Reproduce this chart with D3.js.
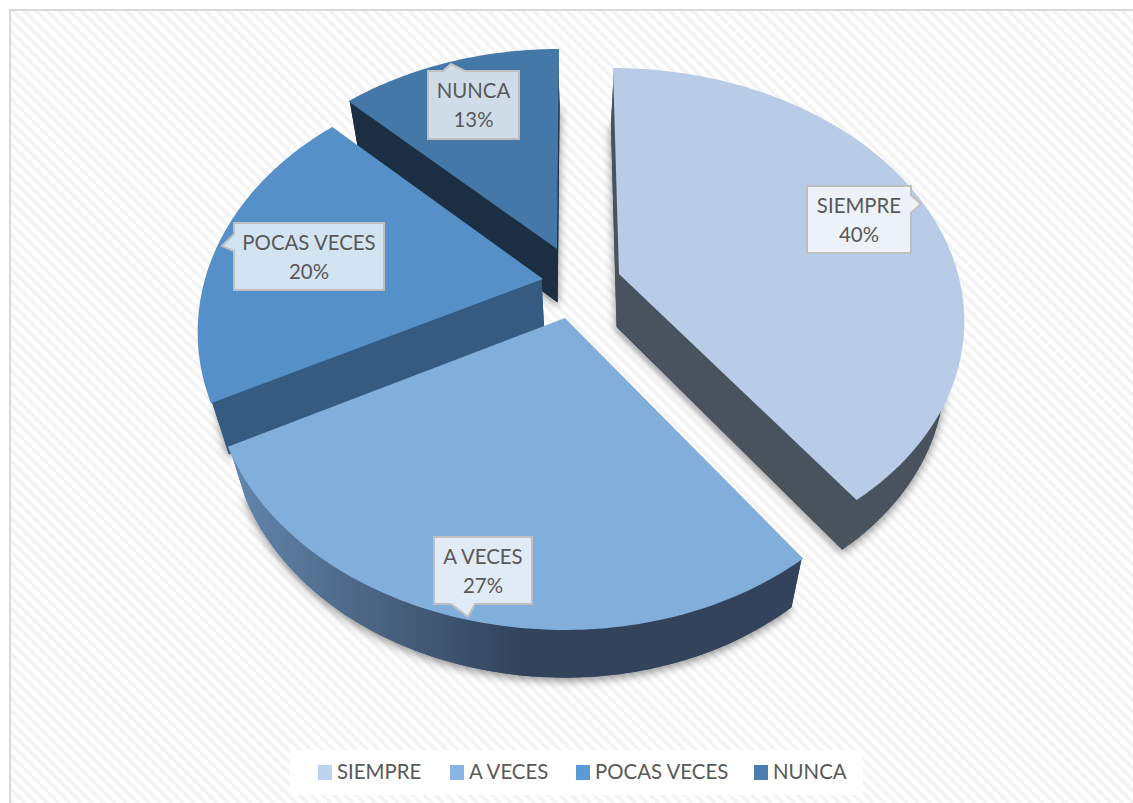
<!DOCTYPE html>
<html><head><meta charset="utf-8">
<style>html,body{margin:0;padding:0;background:#fff;overflow:hidden}svg{display:block}</style>
<script src="https://cdn.jsdelivr.net/npm/d3@7"></script></head>
<body><svg id="c" width="1133" height="803"></svg>
<script>
// --- data ---
const categories = ["SIEMPRE","A VECES","POCAS VECES","NUNCA"];
const values = [40,27,20,13];
const percentLabels = ["40%","27%","20%","13%"];
// --- style / layout ---
const topColors = ["#b8cce7","#82aedc","#5590c9","#4478a9"];
const sideColors = ["#49535e","url(#sideA)","#355b80","#1c2f42"];
const legendColors = ["#bdd2ef","#8ab4e3","#5b9bd5","#4a7eb0"];
const apexes = [[619,274],[565,318],[543,279],[557,249]];
const persp = [
 {A:339,Al:339,B:241,K:0.17, s:0.029, da0:0,   da1:0},
 {A:338,Al:345,B:248,K:0.205,s:0,     da0:0,   da1:0.8},
 {A:338,Al:338,B:248,K:0.205,s:0,     da0:1.8, da1:1.3},
 {A:337,Al:337,B:241,K:0.205,s:-0.01, da0:1.3, da1:0}];
const drawOrder = [3,2,0,1];
const callouts = [
 {x:807,y:186,w:104,h:67,tip:[921,204],base:[195,213],side:"r"},
 {x:434,y:537,w:98,h:67,tip:[468,617],base:[451,475],side:"b"},
 {x:234,y:223,w:150,h:67,tip:[222,246],base:[234,251],side:"l"},
 {x:428,y:71,w:91,h:68,tip:[451,64],base:[443,465],side:"t"}];
const legendX = [318,450,576,754];
const labelFont = {family:"Lato",size:20.4,color:"#595959"};

const svg=d3.select("#c");
const defs=svg.append("defs");
const pat=defs.append("pattern").attr("id","hatch").attr("width",8).attr("height",8)
  .attr("patternUnits","userSpaceOnUse").attr("patternTransform","rotate(-45)");
pat.append("rect").attr("width",8).attr("height",8).attr("fill","#ffffff");
pat.append("rect").attr("width",3.5).attr("height",8).attr("fill","#f3f3f3");
const g=defs.append("linearGradient").attr("id","sideA").attr("gradientUnits","userSpaceOnUse")
  .attr("x1",228).attr("x2",520).attr("y1",0).attr("y2",0);
g.append("stop").attr("offset",0).attr("stop-color","#6387ae");
g.append("stop").attr("offset",0.5).attr("stop-color","#4a6482");
g.append("stop").attr("offset",1).attr("stop-color","#33435c");
const f=defs.append("filter").attr("id","sh").attr("x","-20%").attr("y","-20%").attr("width","140%").attr("height","140%");
f.append("feDropShadow").attr("dx",0).attr("dy",3).attr("stdDeviation",5).attr("flood-color","#000").attr("flood-opacity",0.45);

// background & frame
svg.append("rect").attr("width",1133).attr("height",803).attr("fill","#fff");
svg.append("rect").attr("x",10).attr("y",10).attr("width",1140).attr("height",810)
  .attr("fill","url(#hatch)").attr("stroke","#d9d9d9").attr("stroke-width",2);

// pie angles through d3.pie
const pie=d3.pie().value(d=>d).sort(null).startAngle(0).endAngle(2*Math.PI);
const arcs=pie(values);
const rad=Math.PI/180;
function proj(i,a){
  const P=persp[i], u=Math.sin(a), v=Math.cos(a), w=1+P.K*v;
  const dy=-P.B*v/w;
  return [apexes[i][0]+(u<0?P.Al:P.A)*u/w+P.s*dy, apexes[i][1]+dy];
}
const lower=p=>[570+0.95*(p[0]-570), p[1]+53-0.015*(p[1]-275)];
const line=d3.line();
const chart=svg.append("g");
drawOrder.forEach(i=>{
  const d=arcs[i], n=90, P=persp[i];
  const a0=d.startAngle+P.da0*rad, a1=d.endAngle+P.da1*rad;
  const rim=d3.range(n+1).map(t=>proj(i,a0+(a1-a0)*t/n));
  const outline=[apexes[i],...rim];
  const c=d3.polygonCentroid(outline);
  // pull the upper edge of the walls just under the top face
  const inset=p=>{const dx=c[0]-p[0],dy=c[1]-p[1],l=Math.hypot(dx,dy);return [p[0]+1.5*dx/l,p[1]+1.5*dy/l];};
  const gi=chart.append("g");
  gi.append("path").attr("d",line(outline.map(lower))+"Z").attr("fill",sideColors[i]).attr("filter","url(#sh)");
  const side=gi.append("g").attr("fill",sideColors[i]);
  side.append("path").attr("d",line([...rim.map(inset),...rim.slice().reverse().map(lower)])+"Z");
  [[outline[0],rim[0]],[rim[n],outline[0]]].forEach(([p,q])=>{
    side.append("path").attr("d",line([inset(p),inset(q),lower(q),lower(p)])+"Z");
  });
  gi.append("path").attr("d",line(outline)+"Z").attr("fill",topColors[i]);
});

// callouts
callouts.forEach((c,i)=>{
  const x0=c.x,x1=c.x+c.w,y0=c.y,y1=c.y+c.h;
  let pts;
  if(c.side==="r") pts=[[x0,y0],[x1,y0],[x1,c.base[0]],c.tip,[x1,c.base[1]],[x1,y1],[x0,y1]];
  if(c.side==="l") pts=[[x0,y0],[x1,y0],[x1,y1],[x0,y1],[x0,c.base[1]],c.tip,[x0,c.base[0]]];
  if(c.side==="t") pts=[[x0,y0],[c.base[0],y0],c.tip,[c.base[1],y0],[x1,y0],[x1,y1],[x0,y1]];
  if(c.side==="b") pts=[[x0,y0],[x1,y0],[x1,y1],[c.base[1],y1],c.tip,[c.base[0],y1],[x0,y1]];
  svg.append("path").attr("d",line(pts)+"Z").attr("fill","#fff").attr("fill-opacity",0.75)
    .attr("stroke","#bfbfbf").attr("stroke-width",2);
  const cx=(x0+x1)/2;
  [[categories[i],27],[percentLabels[i],56]].forEach(([t,dy])=>{
    svg.append("text").attr("x",cx).attr("y",y0+dy).attr("text-anchor","middle")
      .attr("font-family",labelFont.family).attr("font-size",labelFont.size).attr("fill",labelFont.color).text(t);
  });
});

// legend
svg.append("rect").attr("x",290).attr("y",750).attr("width",573).attr("height",45).attr("fill","#fff").attr("fill-opacity",0.85);
categories.forEach((c,i)=>{
  svg.append("rect").attr("x",legendX[i]).attr("y",765).attr("width",14).attr("height",15).attr("fill",legendColors[i]);
  svg.append("text").attr("x",legendX[i]+19).attr("y",779).attr("font-family",labelFont.family).attr("font-size",labelFont.size).attr("fill",labelFont.color).text(c);
});
</script></body></html>
